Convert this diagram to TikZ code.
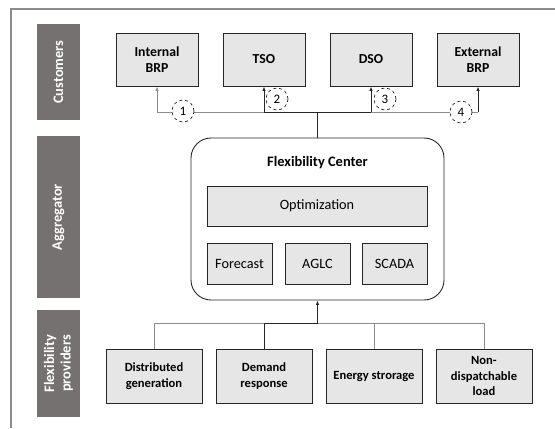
\documentclass[tikz,border=0pt]{standalone}
\usepackage{fontspec}
\setmainfont{Carlito}
\usetikzlibrary{arrows.meta}
\definecolor{bargray}{HTML}{767171}
\definecolor{boxfill}{HTML}{E7E6E6}
\definecolor{linegray}{HTML}{8C8C8C}
\definecolor{linedark}{HTML}{262626}
\tikzset{
  sidebar/.style={fill=bargray, text=white, font=\bfseries\fontsize{14.5}{16}\selectfont, rotate=90, inner sep=0pt, align=center},
  custbox/.style={draw=linedark, fill=boxfill, line width=0.9bp, minimum width=82bp, minimum height=53bp, align=center, font=\bfseries\fontsize{13.8}{16.5}\selectfont, inner sep=0pt},
  provbox/.style={draw=linedark, fill=boxfill, line width=0.9bp, minimum width=96bp, minimum height=54bp, align=center, font=\bfseries\fontsize{12.6}{15.5}\selectfont, inner sep=0pt},
  modbox/.style={draw=linedark, fill=boxfill, line width=0.9bp, minimum height=41bp, align=center, font=\fontsize{14.3}{16}\selectfont, inner sep=0pt},
  numcirc/.style={circle, draw=linedark, dashed, fill=white, line width=0.7bp, minimum size=22bp, inner sep=0pt, font=\fontsize{13}{15}\selectfont},
  conn/.style={line width=1bp},
  arr/.style={line width=1bp, -{Latex[length=4.5bp,width=3.5bp]}},
}
\begin{document}
\begin{tikzpicture}[x=1bp,y=-1bp]
\useasboundingbox (0,0) rectangle (555,428);
% frame
\coordinate (fbl) at (11,428);
\coordinate (ftl) at (11,9);
\coordinate (ftr) at (555,9);
\draw[linegray, line width=1.3bp] (fbl) -- (ftl) -- (ftr);
% side bars
\node[sidebar, minimum width=96bp, minimum height=43bp] (barC) at (58.5,72) {Customers};
\node[sidebar, minimum width=162bp, minimum height=43bp] (barA) at (58.5,217) {Aggregator};
\node[sidebar, minimum width=107bp, minimum height=43bp, font=\bfseries\fontsize{14.5}{16.5}\selectfont] (barF) at (58.5,363.5) {Flexibility\\providers};
% customers
\node[custbox] (ibrp) at (157,59.5) {Internal\\BRP};
\node[custbox] (tso) at (264,59.5) {TSO};
\node[custbox] (dso) at (371,59.5) {DSO};
\node[custbox] (ebrp) at (478,59.5) {External\\BRP};
% flexibility center
\node[draw=linedark, line width=0.9bp, rounded corners=20bp, minimum width=253bp, minimum height=162bp] (fc) at (317.5,219) {};
\node[font=\bfseries\fontsize{14.5}{16}\selectfont] (fct) at (317.5,163) {Flexibility Center};
\node[modbox, minimum width=220bp, minimum height=40bp] (opt) at (317,206) {Optimization};
\node[modbox, minimum width=65bp] (fore) at (239.5,263.5) {Forecast};
\node[modbox, minimum width=65bp] (aglc) at (317.5,263.5) {AGLC};
\node[modbox, minimum width=65bp] (scada) at (394.5,263.5) {SCADA};
% providers
\node[provbox] (dg) at (154,376) {Distributed\\generation};
\node[provbox] (dr) at (264,376) {Demand\\response};
\node[provbox] (es) at (374,376) {Energy strorage};
\node[provbox] (nd) at (484,376) {Non-\\dispatchable\\load};
% top bus
\coordinate (t1) at (157,112);
\coordinate (t2) at (264,112);
\coordinate (tm) at (317.5,112);
\coordinate (t3) at (371,112);
\coordinate (t4) at (478,112);
\draw[conn, linegray] (t1) -- (t2);
\draw[conn, linedark] (t2) -- (t3);
\draw[conn, linegray] (t3) -- (t4);
\draw[conn, linedark] (fc.north) -- (tm);
\draw[arr, linegray] (t1) -- (ibrp.south);
\draw[arr, linedark] (t2) -- (tso.south);
\draw[arr, linedark] (t3) -- (dso.south);
\draw[arr, linedark] (t4) -- (ebrp.south);
\node[numcirc] (c1) at (183,111) {1};
\node[numcirc] (c2) at (277,99) {2};
\node[numcirc] (c3) at (385,99) {3};
\node[numcirc] (c4) at (461,112) {4};
% bottom bus
\coordinate (p1) at (154,323);
\coordinate (p2) at (264,323);
\coordinate (pm) at (317.5,323);
\coordinate (p3) at (374,323);
\coordinate (p4) at (484,323);
\draw[conn, linegray] (p1) -- (p2);
\draw[conn, linedark] (p2) -- (pm);
\draw[conn, linegray] (pm) -- (p4);
\draw[conn, linegray] (dg.north) -- (p1);
\draw[conn, linedark] (dr.north) -- (p2);
\draw[conn, linegray] (es.north) -- (p3);
\draw[conn, linegray] (nd.north) -- (p4);
\draw[arr, linedark] (pm) -- (fc.south);
\end{tikzpicture}
\end{document}
